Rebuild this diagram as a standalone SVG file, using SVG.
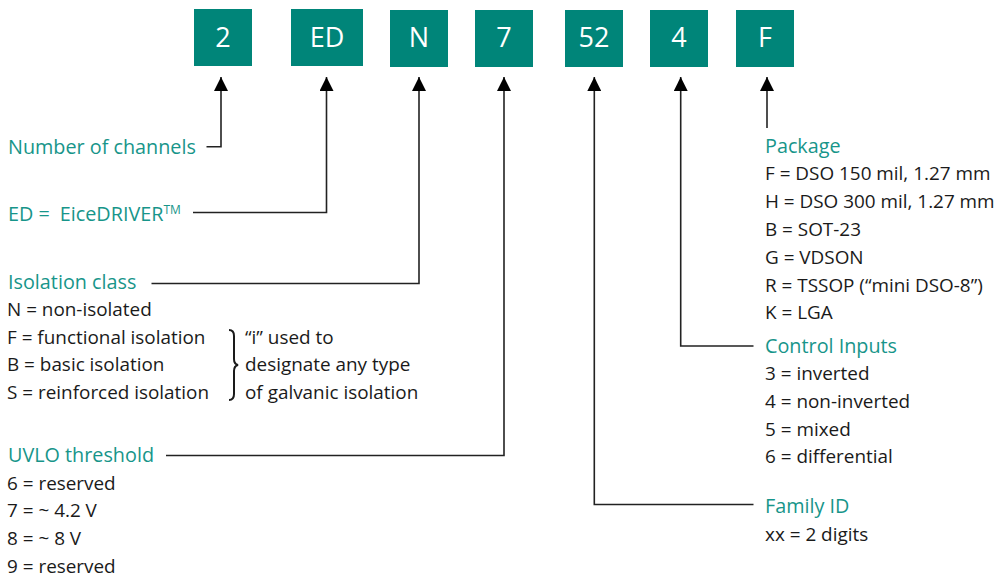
<svg xmlns="http://www.w3.org/2000/svg" width="995" height="577" viewBox="0 0 995 577">
<style>
.box{fill:#008579}
.bt{fill:#fff;font-family:"Open Sans",Lato,sans-serif;font-size:27px;text-anchor:middle}
.h{fill:#17958a;font-family:"Open Sans",Lato,sans-serif;font-size:19.8px}
.t{fill:#1a1a1a;font-family:"Open Sans",Lato,sans-serif;font-size:18.9px}
.c{fill:none;stroke:#222;stroke-width:1.6}
</style>
<defs>
<marker id="ah" viewBox="0 0 14 14" refX="14" refY="7" markerWidth="14" markerHeight="14" markerUnits="userSpaceOnUse" orient="auto">
<path d="M0,0 L14,7 L0,14 Z" fill="#000"/>
</marker>
</defs>
<g id="box-2"><rect class="box" x="194" y="9" width="58" height="57"/><text class="bt" x="223" y="47">2</text></g>
<g id="box-ED"><rect class="box" x="291" y="9" width="72" height="57"/><text class="bt" x="327" y="47">ED</text></g>
<g id="box-N"><rect class="box" x="390" y="10" width="58" height="57"/><text class="bt" x="419" y="47">N</text></g>
<g id="box-7"><rect class="box" x="475" y="10" width="58" height="57"/><text class="bt" x="504" y="47">7</text></g>
<g id="box-52"><rect class="box" x="565" y="10" width="58" height="57"/><text class="bt" x="594" y="47">52</text></g>
<g id="box-4"><rect class="box" x="650" y="10" width="58" height="57"/><text class="bt" x="679" y="47">4</text></g>
<g id="box-F"><rect class="box" x="736" y="10" width="58" height="57"/><text class="bt" x="765" y="47">F</text></g>

<g id="connectors">
<path class="c" d="M206.5,146.7 H221 V77" marker-end="url(#ah)"/>
<path class="c" d="M193,212.5 H326.5 V77" marker-end="url(#ah)"/>
<path class="c" d="M151.5,283.5 H419 V77" marker-end="url(#ah)"/>
<path class="c" d="M166,455.5 H504 V77" marker-end="url(#ah)"/>
<path class="c" d="M753.5,504.5 H594.3 V77" marker-end="url(#ah)"/>
<path class="c" d="M753.5,346 H680.7 V77" marker-end="url(#ah)"/>
<path class="c" d="M767,128 V77" marker-end="url(#ah)"/>
</g>

<g id="channels"><text class="h" x="8" y="154">Number of channels</text></g>
<g id="ed"><text class="h" x="8" y="220.5">ED =<tspan dx="10">EiceDRIVER</tspan><tspan font-size="12" dy="-7">TM</tspan></text></g>
<g id="isolation">
<text class="h" x="8" y="288.5">Isolation class</text>
<text class="t" x="7" y="316">N = non-isolated</text>
<text class="t" x="7" y="343.5">F = functional isolation</text>
<text class="t" x="7" y="371">B = basic isolation</text>
<text class="t" x="7" y="398.5">S = reinforced isolation</text>
<path d="M229,330 Q234,330 234,336 V359 Q234,364 238,365 Q234,366 234,371 V394 Q234,400 229,400" fill="none" stroke="#1a1a1a" stroke-width="2"/>
<text class="t" x="245" y="343.5">“i” used to</text>
<text class="t" x="245" y="371">designate any type</text>
<text class="t" x="245" y="398.5">of galvanic isolation</text>
</g>
<g id="uvlo">
<text class="h" x="8" y="461.5">UVLO threshold</text>
<text class="t" x="7" y="489.5">6 = reserved</text>
<text class="t" x="7" y="517">7 = ~ 4.2 V</text>
<text class="t" x="7" y="545">8 = ~ 8 V</text>
<text class="t" x="7" y="572.5">9 = reserved</text>
</g>
<g id="package">
<text class="h" x="765" y="152.5">Package</text>
<text class="t" x="765" y="180">F = DSO 150 mil, 1.27 mm</text>
<text class="t" x="765" y="208">H = DSO 300 mil, 1.27 mm</text>
<text class="t" x="765" y="236">B = SOT-23</text>
<text class="t" x="765" y="264">G = VDSON</text>
<text class="t" x="765" y="291.5">R = TSSOP (“mini DSO-8”)</text>
<text class="t" x="765" y="318.5">K = LGA</text>
</g>
<g id="control">
<text class="h" x="765" y="353">Control Inputs</text>
<text class="t" x="765" y="380">3 = inverted</text>
<text class="t" x="765" y="408">4 = non-inverted</text>
<text class="t" x="765" y="436">5 = mixed</text>
<text class="t" x="765" y="463">6 = differential</text>
</g>
<g id="family">
<text class="h" x="765" y="512.5">Family ID</text>
<text class="t" x="765" y="540.5">xx = 2 digits</text>
</g>
</svg>
